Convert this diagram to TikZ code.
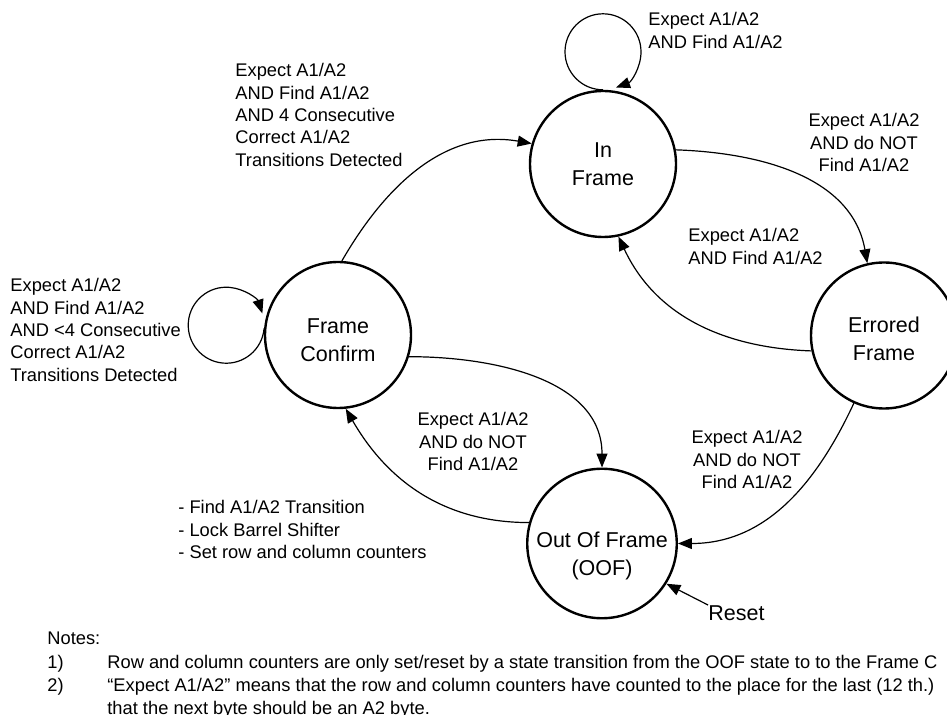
\documentclass[tikz,border=0pt]{standalone}
\usepackage{fontspec}
\setmainfont{Liberation Sans}
\usetikzlibrary{arrows.meta,positioning}
\tikzstyle{state} = [circle, draw, line width=1.2pt, minimum size=73pt, inner sep=0pt, align=center, font=\fontsize{10.75}{13.75}\selectfont]
\tikzstyle{cond} = [inner sep=0pt, font=\fontsize{9.15}{11.2}\selectfont]
\tikzstyle{trans} = [->, line width=0.6pt]

\begin{document}
\begin{tikzpicture}[x=0.5pt, y=-0.5pt, >={Triangle[length=7pt,width=5.5pt]}]
  \useasboundingbox (0,0) rectangle (947,715);
  \clip (0,0) rectangle (947,715);
  \node[state] (IF) at (603,164) {In\\Frame};
  \node[state] (FC) at (338,335) {\rule{0pt}{12.75pt}Frame\\Confirm};
  \node[state] (EF) at (884,335.5) {\rule{0pt}{11.25pt}Errored\\Frame};
  \node[state] (OOF) at (602,543.5) {\rule{0pt}{20pt}Out Of Frame\\(OOF)};
  \node[inner sep=0pt, anchor=north west, font=\fontsize{10.75}{13.75}\selectfont] (reset) at (708,605) {Reset};
  \node[cond, anchor=north west, align=left] (lFCIF) at (235,63) {Expect A1/A2\\AND Find A1/A2\\AND 4 Consecutive\\Correct A1/A2\\Transitions Detected};
  \node[cond, anchor=north west, align=left] (lIFIF) at (648,12) {Expect A1/A2\\AND Find A1/A2};
  \node[cond, anchor=north, align=center] (lIFEF) at (864,113) {Expect A1/A2\\AND do NOT\\Find A1/A2};
  \node[cond, anchor=north west, align=left] (lEFIF) at (688,228) {Expect A1/A2\\AND Find A1/A2};
  \node[cond, anchor=north west, align=left] (lFCFC) at (10,278) {Expect A1/A2\\AND Find A1/A2\\AND <4 Consecutive\\Correct A1/A2\\Transitions Detected};
  \node[cond, anchor=north, align=center] (lFCOOF) at (473,412) {Expect A1/A2\\AND do NOT\\Find A1/A2};
  \node[cond, anchor=north, align=center] (lEFOOF) at (747,430) {Expect A1/A2\\AND do NOT\\Find A1/A2};
  \node[cond, anchor=north west, align=left] (lOOFFC) at (178,500) {- Find A1/A2 Transition\\- Lock Barrel Shifter\\- Set row and column counters};
  \node[cond, anchor=north west] (notes) at (47,632) {Notes:};
  \node[cond, anchor=north west] (n1) at (47,655) {1)};
  \node[cond, anchor=north west] (t1) at (107,655) {Row and column counters are only set/reset by a state transition from the OOF state to to the Frame C};
  \node[cond, anchor=north west] (n2) at (47,678) {2)};
  \node[cond, anchor=north west, align=left] (t2) at (107,678) {“Expect A1/A2” means that the row and column counters have counted to the place for the last (12 th.)\\that the next byte should be an A2 byte.};
  \draw[trans] (FC.87) to[out=60, in=170] (IF.164);
  \draw[trans] (IF.11) to[out=-2, in=100] (EF.103);
  \draw[trans] (EF.192) to[out=178, in=-65] (IF.-78);
  \draw[trans] (EF.246) to[out=-115, in=0] (OOF.0);
  \draw[trans] (FC.-17) to[out=0, in=90] (OOF.90);
  \draw[trans] (OOF.164) to[out=180, in=-60] (FC.-84);
  \draw[trans] (IF.north) arc[start angle=-90, end angle=-430, radius=19pt];
  \draw[trans] (FC.175) arc[start angle=-5, end angle=-342, radius=19pt];
  \draw[trans] (reset.north west) -- (OOF.-32);
\end{tikzpicture}
\end{document}
